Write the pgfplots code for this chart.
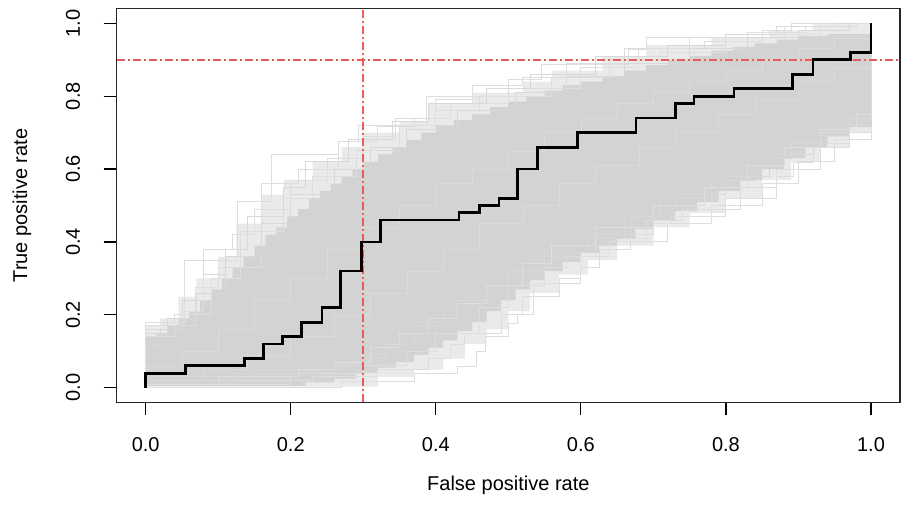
\documentclass[border=0pt]{standalone}
\usepackage{fontspec}
\setmainfont{Liberation Sans}
\usepackage{xcolor}
\usepackage{pgfplots}
\pgfplotsset{compat=1.18}
\definecolor{dense}{RGB}{211,211,211}
\definecolor{halo}{RGB}{234,234,234}
\definecolor{faint}{RGB}{222,222,222}
\definecolor{midg}{RGB}{216,216,216}
\definecolor{streak}{RGB}{219,219,219}
\definecolor{refred}{rgb}{0.93,0.35,0.35}
\newcommand{\lab}{\fontsize{20bp}{24bp}\selectfont}
\begin{document}
\begin{tikzpicture}
\useasboundingbox (-116.7bp,-105.7bp) rectangle (792.3bp,402.3bp);
\begin{axis}[
  at={(0,0)}, anchor=south west,
  scale only axis, width=783.3bp, height=393.6bp,
  xmin=-0.04, xmax=1.04, ymin=-0.04, ymax=1.04,
  xtick={0,0.2,0.4,0.6,0.8,1}, ytick={0,0.2,0.4,0.6,0.8,1},
  xticklabels={0.0,0.2,0.4,0.6,0.8,1.0},
  yticklabels={0.0,0.2,0.4,0.6,0.8,1.0},
  tick align=outside, major tick length=13bp, tick pos=left,
  tick style={black, line width=1.2bp},
  axis line style={line width=1.3bp, black!85},
  tick label style={font=\lab},
  yticklabel style={rotate=90, anchor=south},
  xticklabel shift=19bp, yticklabel shift=20bp,
  xlabel={False positive rate}, ylabel={True positive rate},
  label style={font=\lab},
  xlabel style={at={(axis description cs:0.5,-0.21)}, anchor=center},
  ylabel style={at={(axis description cs:-0.1209,0.5)}, anchor=center},
  no markers,
]
% outer halo of the bootstrap curves (upper edge, then lower edge backwards)
\addplot[const plot, fill=halo, draw=none] coordinates {
(0,0.17) (0.02,0.19) (0.045,0.25) (0.07,0.30) (0.10,0.36) (0.125,0.45) (0.16,0.53) (0.19,0.57)
(0.23,0.62) (0.27,0.66) (0.30,0.70) (0.35,0.73) (0.39,0.78) (0.45,0.81) (0.52,0.84) (0.56,0.87)
(0.63,0.91) (0.69,0.94) (0.78,0.96) (0.86,0.98) (0.92,1.0) (1,1.0)
(1,0.70) (0.97,0.66) (0.93,0.62) (0.89,0.57) (0.85,0.52) (0.80,0.48) (0.75,0.44) (0.70,0.39)
(0.65,0.35) (0.61,0.31) (0.57,0.26) (0.53,0.21) (0.50,0.16) (0.47,0.12) (0.44,0.08) (0.41,0.05)
(0.37,0.03) (0.32,0.003) (0,0.003)} -- cycle;
% dense core
\addplot[const plot, fill=dense, draw=none] coordinates {
(0,0.14) (0.015,0.15) (0.03,0.17) (0.045,0.19) (0.06,0.21) (0.075,0.24) (0.09,0.27) (0.105,0.30)
(0.12,0.33) (0.135,0.36) (0.15,0.39) (0.165,0.42) (0.18,0.44) (0.195,0.47) (0.21,0.49) (0.225,0.52)
(0.24,0.54) (0.255,0.56) (0.27,0.58) (0.285,0.60) (0.30,0.62) (0.32,0.64) (0.34,0.66) (0.36,0.68)
(0.38,0.70) (0.40,0.72) (0.425,0.735) (0.45,0.75) (0.475,0.77) (0.50,0.785) (0.525,0.80) (0.55,0.815)
(0.575,0.83) (0.60,0.84) (0.63,0.855) (0.66,0.87) (0.69,0.885) (0.72,0.90) (0.75,0.91) (0.78,0.925)
(0.81,0.935) (0.84,0.945) (0.87,0.955) (0.90,0.965) (0.94,0.97) (1,0.97)
(1,0.715) (0.97,0.69) (0.94,0.66) (0.91,0.63) (0.88,0.60) (0.85,0.57) (0.82,0.54) (0.79,0.51)
(0.76,0.485) (0.73,0.46) (0.70,0.435) (0.675,0.41) (0.65,0.39) (0.625,0.37) (0.60,0.345) (0.575,0.32)
(0.55,0.295) (0.53,0.27) (0.51,0.24) (0.49,0.21) (0.47,0.18) (0.45,0.155) (0.43,0.13) (0.41,0.11)
(0.39,0.09) (0.37,0.07) (0.345,0.055) (0.32,0.04) (0.29,0.025) (0.26,0.015) (0.22,0.005) (0,0.005)} -- cycle;
% subtle streaks inside the dense core
\addplot[const plot, draw=streak, line width=0.6bp] coordinates {(0,0) (0,0.06) (0.05,0.10) (0.10,0.16) (0.15,0.24) (0.2,0.30) (0.25,0.38) (0.3,0.44) (0.35,0.50) (0.4,0.56) (0.45,0.60) (0.5,0.65) (0.55,0.70) (0.6,0.74) (0.65,0.78) (0.7,0.81) (0.75,0.84) (0.8,0.87) (0.85,0.9) (0.9,0.93) (0.95,0.96) (1,1)};
\addplot[const plot, draw=streak, line width=0.6bp] coordinates {(0,0) (0,0.02) (0.08,0.05) (0.14,0.09) (0.2,0.14) (0.26,0.2) (0.31,0.26) (0.36,0.32) (0.41,0.38) (0.46,0.45) (0.52,0.5) (0.57,0.56) (0.62,0.61) (0.68,0.66) (0.73,0.7) (0.79,0.75) (0.84,0.79) (0.9,0.84) (0.95,0.88) (1,1)};
% individual faint curves, upper side
\addplot[const plot, draw=faint, line width=0.9bp] coordinates {(0,0) (0,0.18) (0.053,0.35) (0.127,0.51) (0.173,0.64) (0.266,0.675) (0.294,0.72) (0.387,0.80) (0.50,0.845) (0.545,0.886) (0.665,0.927) (0.69,0.96) (0.85,0.98) (0.89,1.0) (1,1)};
\addplot[const plot, draw=faint, line width=0.9bp] coordinates {(0,0) (0,0.16) (0.026,0.17) (0.069,0.275) (0.10,0.33) (0.16,0.56) (0.21,0.60) (0.266,0.675) (0.32,0.716) (0.37,0.74) (0.42,0.78) (0.50,0.82) (0.60,0.88) (0.68,0.93) (0.77,0.95) (0.85,0.97) (0.93,1.0) (1,1)};
\addplot[const plot, draw=faint, line width=0.9bp] coordinates {(0,0) (0,0.14) (0.04,0.20) (0.09,0.30) (0.13,0.43) (0.19,0.52) (0.23,0.58) (0.29,0.65) (0.35,0.72) (0.40,0.76) (0.46,0.80) (0.56,0.85) (0.64,0.90) (0.71,0.92) (0.80,0.96) (0.88,0.99) (0.96,1.0) (1,1)};
\addplot[const plot, draw=midg, line width=0.9bp] coordinates {(0,0) (0,0.15) (0.03,0.19) (0.07,0.26) (0.11,0.36) (0.16,0.45) (0.20,0.53) (0.26,0.60) (0.31,0.66) (0.36,0.71) (0.43,0.76) (0.51,0.81) (0.58,0.855) (0.66,0.89) (0.75,0.93) (0.83,0.96) (0.90,0.98) (0.97,1.0) (1,1)};
\addplot[const plot, draw=midg, line width=0.9bp] coordinates {(0,0) (0,0.12) (0.02,0.16) (0.05,0.24) (0.08,0.31) (0.11,0.38) (0.14,0.47) (0.19,0.55) (0.22,0.62) (0.28,0.68) (0.34,0.73) (0.39,0.78) (0.47,0.82) (0.53,0.86) (0.62,0.91) (0.72,0.94) (0.80,0.97) (0.87,0.99) (0.95,1.0) (1,1)};
\addplot[const plot, draw=faint, line width=0.9bp] coordinates {(0,0) (0,0.17) (0.05,0.21) (0.08,0.38) (0.12,0.42) (0.15,0.49) (0.20,0.57) (0.25,0.63) (0.30,0.69) (0.345,0.74) (0.40,0.79) (0.45,0.83) (0.52,0.85) (0.58,0.89) (0.66,0.93) (0.75,0.96) (0.83,0.975) (0.91,0.99) (0.98,1.0) (1,1)};
% individual faint curves, lower side
\addplot[const plot, draw=faint, line width=0.9bp] coordinates {(0,0) (0.27,0.016) (0.37,0.04) (0.43,0.058) (0.456,0.10) (0.468,0.14) (0.50,0.177) (0.513,0.20) (0.534,0.286) (0.60,0.33) (0.625,0.38) (0.668,0.42) (0.70,0.45) (0.725,0.471) (0.80,0.52) (0.87,0.58) (0.893,0.617) (0.92,0.67) (0.97,0.72) (1,1)};
\addplot[const plot, draw=faint, line width=0.9bp] coordinates {(0,0) (0,0.02) (0.23,0.03) (0.32,0.05) (0.39,0.08) (0.42,0.12) (0.44,0.15) (0.49,0.20) (0.52,0.25) (0.57,0.30) (0.60,0.36) (0.64,0.40) (0.72,0.45) (0.78,0.50) (0.85,0.56) (0.90,0.62) (0.95,0.68) (1,0.74) (1,1)};
\addplot[const plot, draw=faint, line width=0.9bp] coordinates {(0,0) (0,0.01) (0.20,0.04) (0.30,0.06) (0.36,0.10) (0.40,0.15) (0.46,0.22) (0.50,0.28) (0.55,0.33) (0.58,0.36) (0.62,0.41) (0.69,0.46) (0.74,0.49) (0.82,0.55) (0.87,0.60) (0.93,0.66) (0.97,0.70) (1,1)};
\addplot[const plot, draw=midg, line width=0.9bp] coordinates {(0,0) (0,0.03) (0.15,0.05) (0.27,0.08) (0.33,0.12) (0.37,0.18) (0.43,0.24) (0.48,0.30) (0.53,0.36) (0.59,0.41) (0.66,0.47) (0.71,0.52) (0.78,0.57) (0.84,0.63) (0.89,0.67) (0.94,0.72) (1,0.78) (1,1)};
\addplot[const plot, draw=midg, line width=0.9bp] coordinates {(0,0) (0,0.02) (0.12,0.04) (0.24,0.06) (0.29,0.09) (0.33,0.13) (0.36,0.17) (0.41,0.22) (0.45,0.27) (0.50,0.32) (0.55,0.37) (0.61,0.42) (0.67,0.48) (0.73,0.53) (0.80,0.58) (0.86,0.64) (0.92,0.70) (0.97,0.74) (1,1)};
\addplot[const plot, draw=faint, line width=0.9bp] coordinates {(0,0) (0,0.01) (0.10,0.03) (0.21,0.05) (0.26,0.07) (0.31,0.11) (0.35,0.15) (0.39,0.19) (0.43,0.23) (0.47,0.28) (0.52,0.34) (0.56,0.39) (0.62,0.44) (0.70,0.50) (0.77,0.55) (0.83,0.61) (0.88,0.66) (0.93,0.71) (0.98,0.75) (1,1)};
% reference lines
\addplot[color=refred, solid, line width=1.6bp, dash pattern=on 8bp off 3bp on 2bp off 3bp] coordinates {(0.3,-0.04) (0.3,1.04)};
\addplot[color=refred, solid, line width=1.6bp, dash pattern=on 8bp off 3bp on 2bp off 3bp] coordinates {(-0.04,0.9) (1.04,0.9)};
% observed ROC curve
\addplot[const plot, draw=black, line width=2.8bp] coordinates {
(0,0) (0,0.04) (0.055,0.06) (0.136,0.08) (0.162,0.12) (0.189,0.14) (0.215,0.18) (0.243,0.22)
(0.269,0.32) (0.297,0.40) (0.324,0.46) (0.432,0.48) (0.46,0.50) (0.487,0.52) (0.513,0.60)
(0.540,0.66) (0.595,0.70) (0.676,0.74) (0.730,0.78) (0.756,0.80) (0.811,0.82) (0.892,0.86)
(0.920,0.90) (0.972,0.92) (1.0,1.0)};
\end{axis}
\end{tikzpicture}
\end{document}
